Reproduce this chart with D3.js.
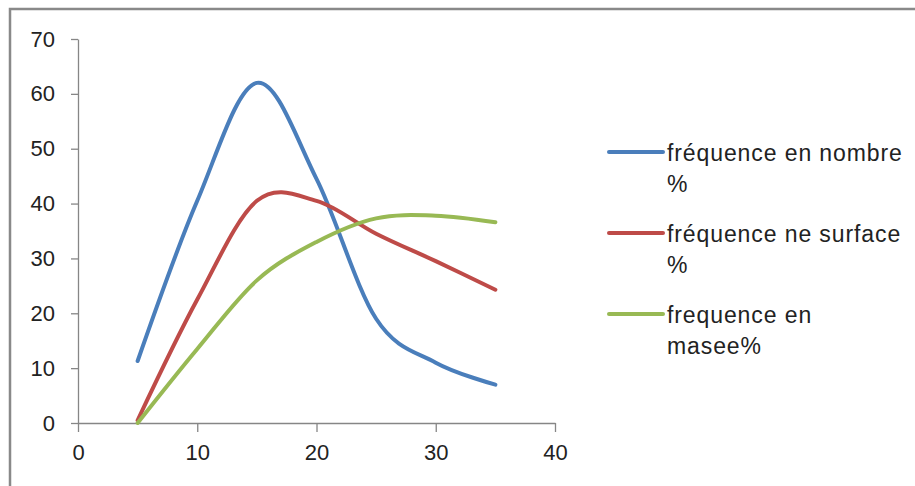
<!DOCTYPE html>
<html>
<head>
<meta charset="utf-8">
<script src="https://cdnjs.cloudflare.com/ajax/libs/d3/7.8.5/d3.min.js"></script>
<style>
  html, body { margin: 0; padding: 0; background: #fff; }
  svg { display: block; font-family: "Liberation Sans", Arial, sans-serif; }
</style>
</head>
<body>
<div id="chart"></div>
<script>
const xValues = [5, 10, 15, 20, 25, 30, 35];
const nombre = [11.3, 40.5, 62, 44.5, 19, 11, 7];
const surface = [0.5, 22.5, 40.5, 40.5, 34.5, 29.5, 24.3];
const masse = [0, 13.5, 26, 33, 37.3, 37.8, 36.6];
const xTicks = [0, 10, 20, 30, 40];
const yTicks = [0, 10, 20, 30, 40, 50, 60, 70];

const series = [
  { label: ['fréquence en nombre', '%'], values: nombre, color: '#4a7ebb' },
  { label: ['fréquence ne surface', '%'], values: surface, color: '#be4b48' },
  { label: ['frequence en', 'masee%'], values: masse, color: '#98b954' }
];

const width = 915, height = 486;

const svg = d3.select('#chart')
  .append('svg')
  .attr('width', width)
  .attr('height', height);

// chart frame (right and bottom edges fall outside the picture)
svg.append('rect')
  .attr('x', 10)
  .attr('y', 9)
  .attr('width', 940)
  .attr('height', 520)
  .attr('fill', '#fff')
  .attr('stroke', '#898989')
  .attr('stroke-width', 2.5);

const x = d3.scaleLinear().domain([0, 40]).range([78, 555]);
const y = d3.scaleLinear().domain([0, 70]).range([423, 39]);

const xAxis = svg.append('g')
  .attr('transform', `translate(0, ${y(0)})`)
  .call(d3.axisBottom(x).tickValues(xTicks).tickSize(9).tickPadding(12).tickSizeOuter(0));

const yAxis = svg.append('g')
  .attr('transform', `translate(${x(0)}, 0)`)
  .call(d3.axisLeft(y).tickValues(yTicks).tickSize(7).tickPadding(16).tickSizeOuter(0));

[xAxis, yAxis].forEach(ax => {
  ax.select('.domain').attr('stroke', '#868686').attr('stroke-width', 1.3);
  ax.selectAll('.tick line').attr('stroke', '#868686').attr('stroke-width', 1.3);
  ax.selectAll('.tick text')
    .style('font-size', '22px')
    .style('font-family', '"Liberation Sans", Arial, sans-serif')
    .attr('fill', '#222');
});
xAxis.selectAll('.tick text').attr('dy', '0.71em');

const line = d3.line()
  .x((d, i) => x(xValues[i]))
  .y(d => y(d))
  .curve(d3.curveCatmullRom.alpha(0));

svg.selectAll('.serie')
  .data(series)
  .enter().append('path')
    .attr('class', 'serie')
    .attr('d', d => line(d.values))
    .attr('fill', 'none')
    .attr('stroke', d => d.color)
    .attr('stroke-width', 4)
    .attr('stroke-linecap', 'round');

// legend
const legend = svg.selectAll('.legend')
  .data(series)
  .enter().append('g')
    .attr('class', 'legend')
    .attr('transform', (d, i) => `translate(609, ${152 + i * 81})`);

legend.append('line')
  .attr('x1', 0)
  .attr('x2', 54)
  .attr('stroke', d => d.color)
  .attr('stroke-width', 4)
  .attr('stroke-linecap', 'round');

legend.append('text')
  .attr('x', 58)
  .style('font-size', '23px')
  .style('letter-spacing', '0.9px')
  .attr('fill', '#222')
  .selectAll('tspan')
  .data(d => d.label)
  .enter().append('tspan')
    .attr('x', 58)
    .attr('y', (d, i) => 9 + i * 31)
    .text(d => d);
</script>
</body>
</html>
